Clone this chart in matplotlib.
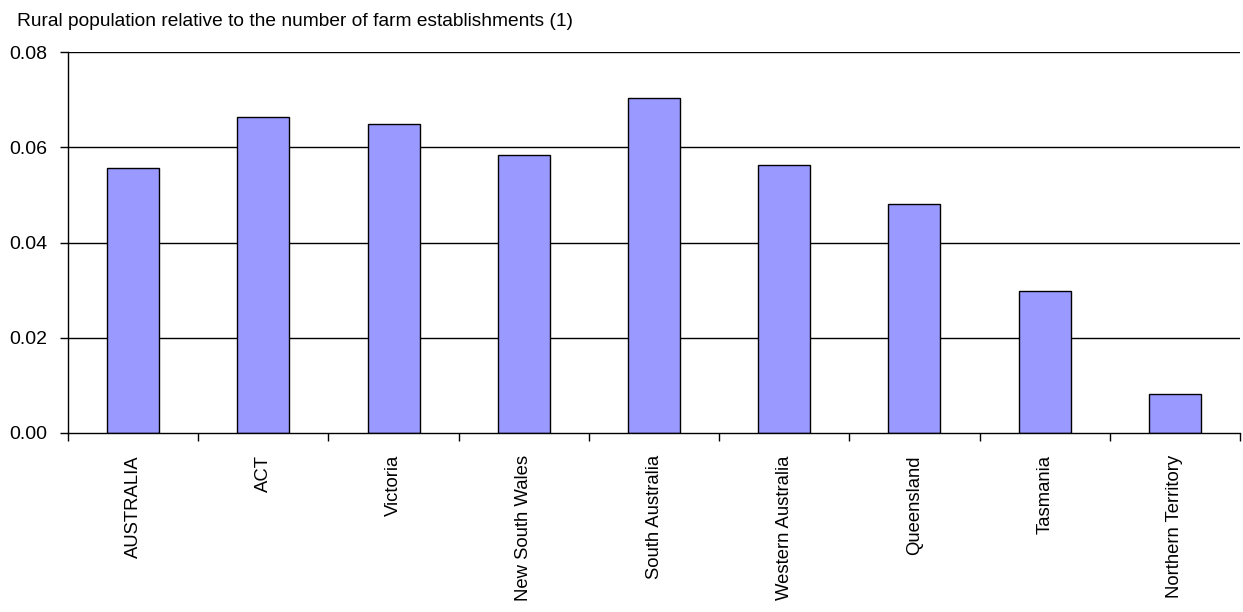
import matplotlib; matplotlib.use("Agg")
import matplotlib.pyplot as plt
import numpy as np

plt.rcParams["font.family"] = ["Liberation Sans", "DejaVu Sans"]

regions = ["AUSTRALIA", "ACT", "Victoria", "New South Wales", "South Australia",
           "Western Australia", "Queensland", "Tasmania", "Northern Territory"]
ratio = [0.0556, 0.0664, 0.0649, 0.0584, 0.0703, 0.0563, 0.0481, 0.0298, 0.0082]
yticks = [0.0, 0.02, 0.04, 0.06, 0.08]

BAR = "#9999FF"

fig = plt.figure(figsize=(12.43, 6.12), dpi=100)
ax = fig.add_axes([0.0547, 0.2925, 0.9429, 0.6225])

x = np.arange(len(regions))
ax.bar(x, ratio, width=0.4, color=BAR, edgecolor="black", linewidth=1.0, zorder=3)

ax.set_xlim(-0.5, len(regions) - 0.5)
ax.set_ylim(0, 0.08)
ax.set_yticks(yticks)
ax.set_yticklabels([f"{v:.2f}" for v in yticks], fontsize=14)
for v in yticks[1:]:
    ax.axhline(v, color="black", linewidth=1.0, zorder=1)

# category labels under bars, ticks on category boundaries
ax.set_xticks(x)
ax.set_xticklabels(regions, rotation=90, fontsize=13.3)
ax.tick_params(axis="x", length=0, pad=16)
ax.set_xticks(np.arange(len(regions) + 1) - 0.5, minor=True)
ax.tick_params(axis="x", which="minor", length=6, width=1.0, direction="out")
ax.tick_params(axis="y", length=6, width=1.0, direction="out", pad=9)

for s in ("top", "right"):
    ax.spines[s].set_visible(False)
ax.spines["left"].set_linewidth(1.0)
ax.spines["bottom"].set_linewidth(1.0)
ax.spines["bottom"].set_zorder(4)

fig.text(0.014, 0.965, "Rural population relative to the number of farm establishments (1)",
         fontsize=13.8, ha="left", va="center")

fig.savefig("out.png", dpi=100)
